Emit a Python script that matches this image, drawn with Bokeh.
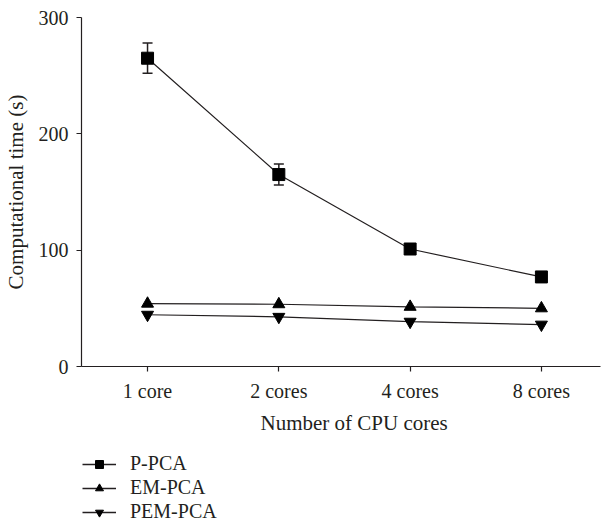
from bokeh.plotting import figure
from bokeh.layouts import column
from bokeh.models import (Range1d, FixedTicker, ColumnDataSource, Whisker, Legend,
                          LegendItem, TeeHead, Title)
from bokeh.embed import file_html
from bokeh.resources import INLINE

categories = ["1 core", "2 cores", "4 cores", "8 cores"]
x_pos = [1, 2, 3, 4]
p_pca = [265, 165, 101, 77]
p_pca_err = [13, 9, 0, 0]
em_pca = [54, 53.5, 51.3, 50]
pem_pca = [44.5, 42.7, 38.5, 36]
y_ticks = [0, 100, 200, 300]
series_names = ["P-PCA", "EM-PCA", "PEM-PCA"]

FONT = "Liberation Serif"
INK = "#231f20"

p = figure(width=604, height=440, output_backend="svg", toolbar_location=None,
           x_range=Range1d(0.497, 4.45), y_range=Range1d(0, 300),
           min_border_left=81, min_border_top=17, min_border_right=4,
           min_border_bottom=74)
p.outline_line_color = None
p.xgrid.visible = False
p.ygrid.visible = False

for ax in (p.xaxis[0], p.yaxis[0]):
    ax.axis_line_color = INK
    ax.axis_line_width = 1.2
    ax.major_tick_line_color = INK
    ax.major_tick_line_width = 1.2
    ax.minor_tick_line_color = None
    ax.major_tick_in = 0
    ax.major_tick_out = 5
    ax.major_label_text_font = FONT
    ax.major_label_text_font_size = "20px"
    ax.major_label_text_color = INK
    ax.axis_label_text_font = FONT
    ax.axis_label_text_font_size = "21px"
    ax.axis_label_text_font_style = "normal"
    ax.axis_label_text_color = INK

p.xaxis.ticker = FixedTicker(ticks=x_pos)
p.xaxis.major_label_overrides = {x: c for x, c in zip(x_pos, categories)}
p.xaxis.major_label_standoff = 8
p.yaxis.ticker = FixedTicker(ticks=y_ticks)
p.yaxis.axis_label = "Computational time (s)"
p.yaxis.major_label_standoff = 8
p.yaxis.axis_label_standoff = 8

xtitle = Title(text="Number of CPU cores", align="left", offset=179,
               standoff=8, text_font=FONT, text_font_size="21px",
               text_font_style="normal", text_color=INK)
p.add_layout(xtitle, "below")

src_p = ColumnDataSource(dict(x=x_pos, y=p_pca,
                              up=[v + e for v, e in zip(p_pca, p_pca_err)],
                              lo=[v - e for v, e in zip(p_pca, p_pca_err)]))
src_em = ColumnDataSource(dict(x=x_pos, y=em_pca))
src_pem = ColumnDataSource(dict(x=x_pos, y=pem_pca))
sources = [src_p, src_em, src_pem]
markers = ["square", "triangle", "inverted_triangle"]

lw = 1.2
for src, mk in zip(sources, markers):
    p.line("x", "y", source=src, line_color=INK, line_width=lw)

wh = Whisker(base="x", upper="up", lower="lo", source=src_p, line_color=INK,
             line_width=1.5,
             upper_head=TeeHead(size=10, line_color=INK, line_width=1.5),
             lower_head=TeeHead(size=10, line_color=INK, line_width=1.5))
p.add_layout(wh)

for src, mk in zip(sources, markers):
    p.scatter("x", "y", source=src, marker=mk, size=12,
              fill_color="black", line_color="black")

# legend panel below the chart
lg = figure(width=604, height=88, output_backend="svg", toolbar_location=None,
            x_range=Range1d(100, 101), y_range=Range1d(100, 101),
            x_axis_location=None, y_axis_location=None,
            min_border_left=0, min_border_right=0, min_border_top=0,
            min_border_bottom=0)
lg.outline_line_color = None
lg.xgrid.visible = False
lg.ygrid.visible = False

items = []
for name, src, mk in zip(series_names, sources, markers):
    lr = lg.line("x", "y", source=src, line_color=INK, line_width=1.3)
    mr = lg.scatter("x", "y", source=src, marker=mk, size=9,
                    fill_color="black", line_color="black")
    items.append(LegendItem(label=name, renderers=[lr, mr]))

legend = Legend(items=items, location=(1, 5), orientation="vertical")
legend.label_text_font = FONT
legend.label_text_font_size = "20px"
legend.label_text_color = INK
legend.glyph_width = 34
legend.glyph_height = 20
legend.label_height = 20
legend.spacing = 1
legend.label_standoff = 14
legend.padding = 0
legend.margin = 0
legend.border_line_color = None
legend.background_fill_alpha = 0
lg.add_layout(legend)

layout = column(p, lg, spacing=0)
open("out.html", "w").write(file_html(layout, INLINE))
